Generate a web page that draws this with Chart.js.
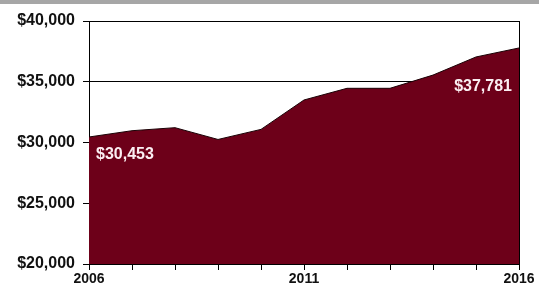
<!DOCTYPE html>
<html>
<head>
<meta charset="utf-8">
<script src="https://cdn.jsdelivr.net/npm/chart.js@4/dist/chart.umd.min.js"></script>
<style>
  body { margin: 0; background: #fff; }
  #wrap { position: relative; width: 539px; height: 284px; }
  #bar { position: absolute; left: 0; top: 0; width: 539px; height: 4px; background: #a6a6a6; }
</style>
</head>
<body>
<div id="wrap">
  <canvas id="incomeChart" width="539" height="284"></canvas>
  <div id="bar"></div>
</div>
<script>
// Values
const years = [2006, 2007, 2008, 2009, 2010, 2011, 2012, 2013, 2014, 2015, 2016];
const income = [30453, 30970, 31220, 30250, 31080, 33500, 34460, 34460, 35550, 37040, 37781];
const labeledYears = [2006, 2011, 2016];

const fillColor = '#6d0019';
const fontName = '"Liberation Sans", Arial, sans-serif';

function money(v) {
    return '$' + Number(v).toLocaleString('en-US');
}

// Value labels on first and last points
const valueLabels = {
    id: 'valueLabels',
    afterDatasetsDraw(chart) {
        const ctx = chart.ctx;
        const meta = chart.getDatasetMeta(0);
        const first = meta.data[0];
        const last = meta.data[meta.data.length - 1];
        ctx.save();
        ctx.fillStyle = '#fbeef2';
        ctx.font = 'bold 16px ' + fontName;
        ctx.textBaseline = 'middle';
        ctx.textAlign = 'left';
        ctx.fillText(money(income[0]), first.x + 7, first.y + 18);
        ctx.textAlign = 'right';
        ctx.fillText(money(income[income.length - 1]), last.x - 7, last.y + 39);
        ctx.restore();
    }
};

// Right side of the plot frame
const frame = {
    id: 'frame',
    afterDraw(chart) {
        const a = chart.chartArea;
        const ctx = chart.ctx;
        ctx.save();
        ctx.strokeStyle = '#000';
        ctx.lineWidth = 1;
        ctx.beginPath();
        ctx.moveTo(Math.round(a.right) + 0.5, a.top);
        ctx.lineTo(Math.round(a.right) + 0.5, a.bottom);
        ctx.stroke();
        ctx.restore();
    }
};

window.addEventListener('DOMContentLoaded', () => {
    const ctx = document.getElementById('incomeChart').getContext('2d');
    new Chart(ctx, {
        type: 'line',
        data: {
            labels: years,
            datasets: [{
                data: years.map((y, i) => ({ x: y, y: income[i] })),
                borderColor: '#1a0005',
                borderWidth: 1,
                backgroundColor: fillColor,
                fill: 'start',
                tension: 0,
                pointRadius: 0,
            }],
        },
        options: {
            responsive: false,
            animation: false,
            layout: { padding: { top: 21, right: 20, left: 0, bottom: 0 } },
            plugins: {
                legend: { display: false },
                tooltip: { enabled: false },
            },
            scales: {
                x: {
                    type: 'linear',
                    min: 2006,
                    max: 2016,
                    afterFit(scale) { scale.height = 20; },
                    ticks: {
                        stepSize: 1,
                        autoSkip: false,
                        maxRotation: 0,
                        padding: 1,
                        color: '#111',
                        font: { family: fontName, size: 14, weight: 'bold' },
                        callback: v => labeledYears.includes(v) ? String(v) : '',
                    },
                    grid: { drawOnChartArea: false, color: '#000', tickLength: 6 },
                    border: { color: '#000', width: 1 },
                },
                y: {
                    min: 20000,
                    max: 40000,
                    afterFit(scale) { scale.width = 89; },
                    ticks: {
                        stepSize: 5000,
                        padding: 8,
                        color: '#111',
                        font: { family: fontName, size: 16, weight: 'bold' },
                        callback: v => money(v),
                    },
                    grid: { color: '#000', tickLength: 6 },
                    border: { color: '#000', width: 1 },
                },
            },
        },
        plugins: [valueLabels, frame],
    });
});
</script>
</body>
</html>
